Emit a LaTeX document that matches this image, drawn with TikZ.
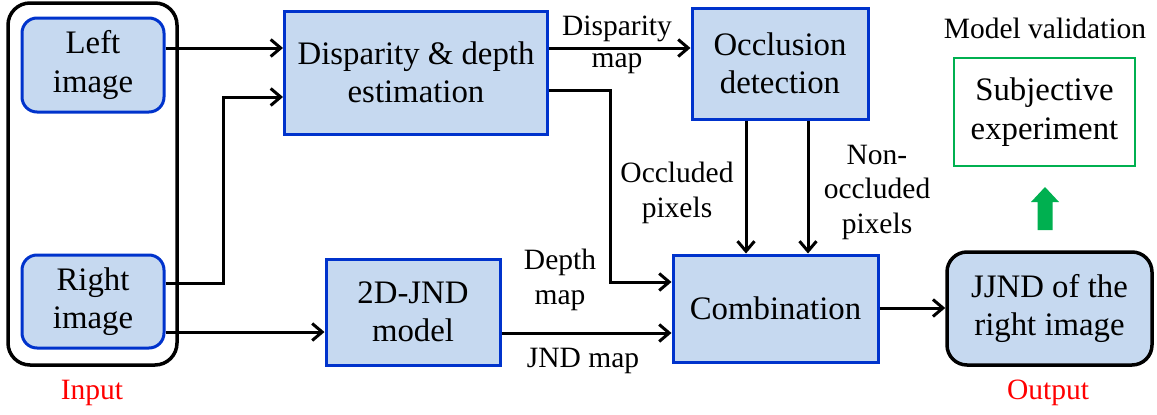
\documentclass[tikz,border=0pt]{standalone}
\usepackage{fontspec}
\setmainfont{Liberation Serif}
\usetikzlibrary{arrows.meta,calc}
\definecolor{boxblue}{RGB}{0,51,204}
\definecolor{boxfill}{RGB}{198,217,240}
\definecolor{valgreen}{RGB}{0,176,80}
\definecolor{inred}{RGB}{255,0,0}
\newcommand{\boxfont}{\rmfamily\fontsize{32.8}{38.5}\selectfont}
\newcommand{\labfont}{\rmfamily\fontsize{29.5}{34.5}\selectfont}
\tikzset{
  bluebox/.style={draw=boxblue, fill=boxfill, line width=3pt, align=center, inner sep=0pt, font=\boxfont},
  roundblue/.style={bluebox, rounded corners=15pt},
  blackbox/.style={draw=black, fill=boxfill, line width=3.5pt, rounded corners=20pt, align=center, inner sep=0pt, font=\boxfont},
  greenbox/.style={draw=valgreen, line width=2.5pt, align=center, inner sep=0pt, font=\boxfont},
  lab/.style={align=center, inner sep=0pt, font=\labfont},
  redlab/.style={lab, text=inred},
  arr/.style={line width=3pt, -{Straight Barb[length=10pt,width=17pt,line width=3pt]}}
}
\begin{document}
\begin{tikzpicture}[x=1pt,y=-1pt]
\useasboundingbox (0,0) rectangle (1157,415);
% input group
\node[draw=black, line width=3.5pt, rounded corners=22pt, minimum width=169pt, minimum height=362pt, inner sep=0pt] (inbox) at (92.5,184) {};
\node[roundblue, minimum width=142pt, minimum height=94pt] (left) at (93,65) {Left\\image};
\node[roundblue, minimum width=142pt, minimum height=93pt] (right) at (93,301.5) {Right\\image};
\node[redlab] (input) at (92,393) {Input};
% processing boxes
\node[bluebox, minimum width=263pt, minimum height=123pt] (disp) at (416,72.5) {Disparity \& depth\\estimation};
\node[bluebox, minimum width=176pt, minimum height=111pt] (occl) at (780,63.5) {Occlusion\\detection};
\node[bluebox, minimum width=174pt, minimum height=106pt] (jnd) at (413,312) {2D-JND\\model};
\node[bluebox, minimum width=205pt, minimum height=107pt] (comb) at (775.5,308.5) {Combination};
\node[blackbox, minimum width=205pt, minimum height=113pt] (jjnd) at (1049.5,308.5) {JJND of the\\right image};
\node[redlab] (output) at (1048,393) {Output};
% validation
\node[lab] (mval) at (1045,28) {Model validation};
\node[greenbox, minimum width=181pt, minimum height=108pt] (subj) at (1044.5,112) {Subjective\\experiment};
\coordinate (gbase) at (1045,230);
\coordinate (gtip) at (1045,187);
\fill[valgreen] ($(gbase)+(-7.5,0)$) -- ($(gbase)+(7.5,0)$) -- ($(gtip)+(7.5,15)$) -- ($(gtip)+(14,15)$) -- (gtip) -- ($(gtip)+(-14,15)$) -- ($(gtip)+(-7.5,15)$) -- cycle;
% connectors
\draw[arr] (left.east |- {0,48}) -- (disp.west |- {0,48});
\draw[arr] (right.east |- {0,283}) -- (223,283) -- (223,97) -- (disp.west |- {0,97});
\draw[arr] (right.east |- {0,332}) -- (jnd.west |- {0,332});
\draw[arr] (disp.east |- {0,48}) -- (occl.west |- {0,48});
\draw[arr] (disp.east |- {0,90}) -- (610,90) -- (610,282) -- (comb.west |- {0,282});
\draw[arr] (occl.south -| {746,0}) -- (comb.north -| {746,0});
\draw[arr] (occl.south -| {808,0}) -- (comb.north -| {808,0});
\draw[arr] (jnd.east |- {0,333}) -- (comb.west |- {0,333});
\draw[arr] (comb.east |- {0,308}) -- (jjnd.west |- {0,308});
% labels
\node[lab] (ldisp) at (617,29) {Disparity};
\node[lab] (ldispb) at (617,64) {map};
\node[lab] (locc) at (677,193) {Occluded\\pixels};
\node[lab] (lnon) at (877,192) {Non-\\occluded\\pixels};
\node[lab] (ldepth) at (560,280) {Depth\\map};
\node[lab] (ljnd) at (583,361) {JND map};
\end{tikzpicture}
\end{document}
